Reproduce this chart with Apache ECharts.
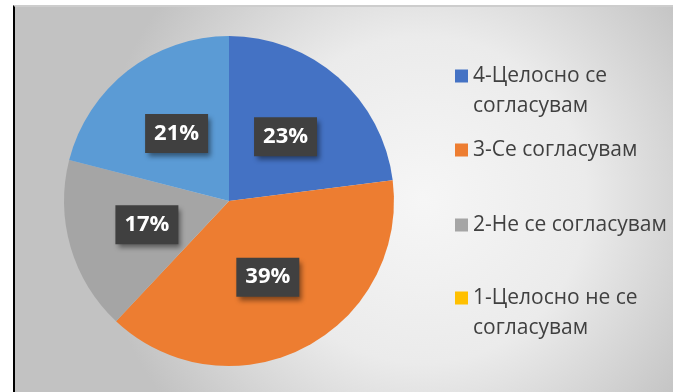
<!DOCTYPE html>
<html>
<head>
<meta charset="utf-8">
<script src="https://cdn.jsdelivr.net/npm/echarts@6/dist/echarts.min.js"></script>
<style>
  html, body { margin: 0; padding: 0; background: #fff; }
  #grafico {
    position: absolute; left: 13px; top: 5px;
    width: 658px; height: 385px;
    border-left: 2px solid #000; border-top: 2px solid #cdcdcd;
  }
</style>
</head>
<body>
<div id="grafico"></div>
<script type="text/javascript">
// categorias y valores (porcentajes)
var categorias = ["4-Целосно се\nсогласувам", "3-Се согласувам", "2-Не се согласувам", "1-Целосно не се\nсогласувам"];
var valores = [23, 39, 17, 0];
var valorExtra = 21; // porcion sin leyenda (azul claro)
var colores = ["#4472C4", "#ED7D31", "#A5A5A5", "#FFC000"];
var colorExtra = "#5B9BD5";

var myChart = echarts.init(document.getElementById("grafico"));

var datos = [];
for (var i = 0; i < categorias.length; i++) {
  datos.push({ value: valores[i], name: categorias[i], itemStyle: { color: colores[i] } });
}
// orden de las porciones en el grafico: 23, 39, 17, 21, 0
var datosPie = [datos[0], datos[1], datos[2],
  { value: valorExtra, name: "extra", itemStyle: { color: colorExtra } },
  { value: valores[3], name: categorias[3], itemStyle: { color: colores[3] }, label: { show: false } }];

var fuente = "Open Sans";
var topes = [69, 143, 218, 291]; // centro del icono de cada leyenda
var leyendas = [];
for (var j = 0; j < categorias.length; j++) {
  var dosLineas = categorias[j].indexOf("\n") >= 0;
  leyendas.push({
    data: [categorias[j]],
    orient: "vertical",
    left: 440,
    top: dosLineas ? topes[j] - 45 : topes[j] - 15,
    padding: 0,
    itemWidth: 13,
    itemHeight: 13,
    itemGap: 0,
    icon: "rect",
    selectedMode: false,
    // linea vacia arriba para que el icono quede junto a la primera linea
    formatter: dosLineas ? function (n) { return "\u00a0\n" + n; } : "{name}",
    textStyle: {
      fontFamily: fuente,
      fontSize: 21,
      color: "#404040",
      lineHeight: 30
    }
  });
}

var option = {
  backgroundColor: {
    type: "radial", x: 0.62, y: 0.5, r: 0.85,
    colorStops: [
      { offset: 0, color: "#f6f6f6" },
      { offset: 0.5, color: "#ebebeb" },
      { offset: 1, color: "#c2c2c2" }
    ]
  },
  legend: leyendas,
  series: [
    {
      type: "pie",
      center: [214, 194],
      radius: [0, 165],
      startAngle: 90,
      clockwise: true,
      animation: false,
      avoidLabelOverlap: false,
      data: datosPie,
      label: {
        show: true,
        position: "inside",
        formatter: function (p) { return Math.round(p.percent) + "%"; },
        color: "#fff",
        fontFamily: fuente,
        fontSize: 22,
        fontWeight: "bold",
        backgroundColor: "#404040",
        padding: [9, 9, 8, 9],
        shadowColor: "rgba(0,0,0,0.45)",
        shadowBlur: 5,
        shadowOffsetX: 3,
        shadowOffsetY: 4
      },
      labelLine: { show: false },
      emphasis: { disabled: true }
    }
  ]
};

myChart.setOption(option);
</script>
</body>
</html>
